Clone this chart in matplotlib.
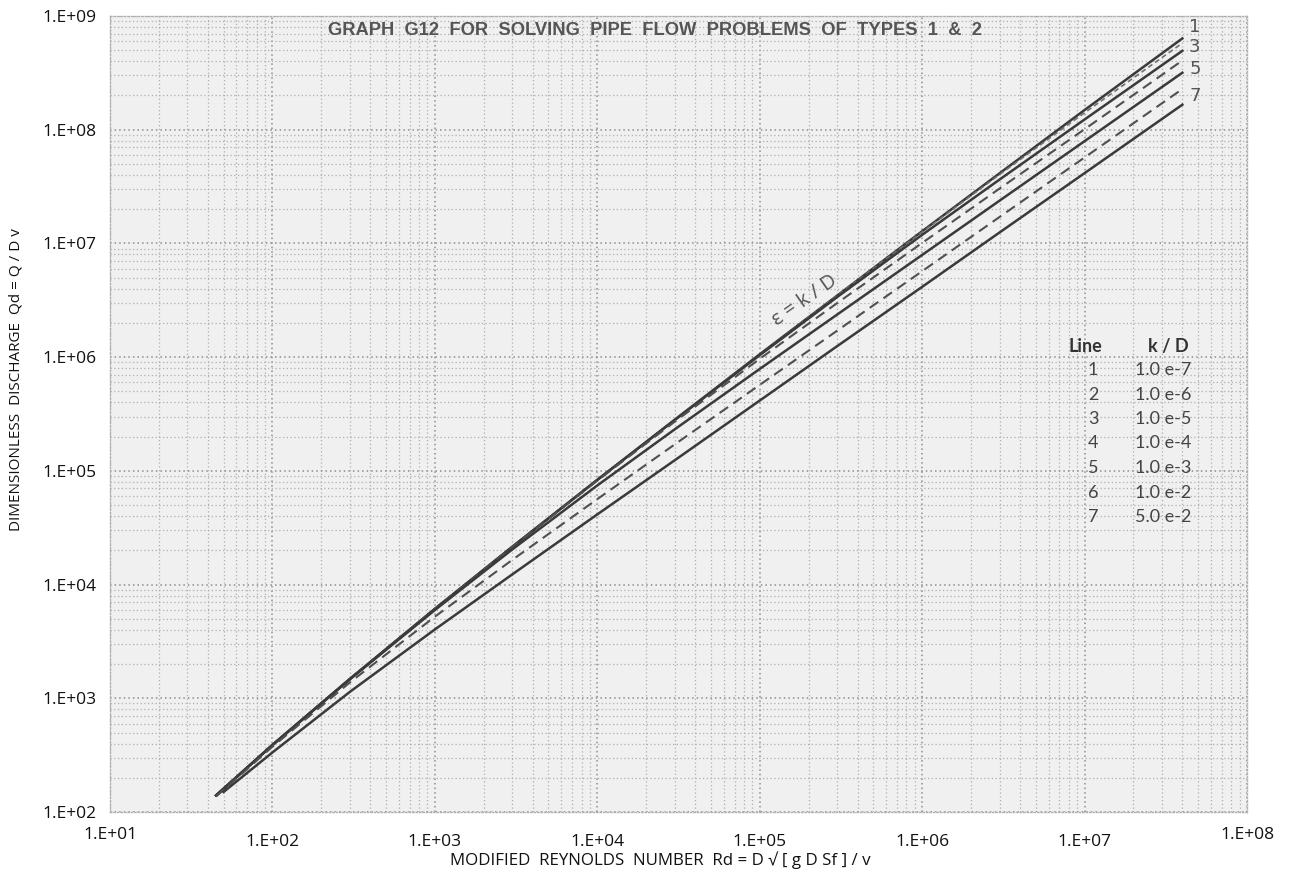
import matplotlib
matplotlib.use("Agg")
import matplotlib.pyplot as plt
from matplotlib.ticker import LogLocator, NullFormatter

# ---------------- data ----------------
rd = [45, 100, 300, 1e3, 3e3, 1e4, 3e4, 1e5, 3e5, 1e6, 3e6, 1e7, 4e7]
rd7 = [50, 100, 300, 1e3, 3e3, 1e4, 3e4, 1e5, 3e5, 1e6, 3e6, 1e7, 4e7]

qd1 = [140, 389, 1480, 6110, 21500, 83300, 282000, 1.06e6, 3.48e6, 1.28e7, 4.14e7, 1.49e8, 6.35e8]
qd2 = [140, 389, 1480, 6110, 21500, 83300, 282000, 1.05e6, 3.47e6, 1.26e7, 4.04e7, 1.41e8, 5.78e8]
qd3 = [140, 389, 1480, 6110, 21500, 83200, 280000, 1.04e6, 3.38e6, 1.19e7, 3.65e7, 1.23e8, 4.94e8]
qd4 = [140, 389, 1480, 6100, 21400, 82000, 271000, 9.66e5, 2.99e6, 1.01e7, 3.04e7, 1.01e8, 4.06e8]
qd5 = [140, 387, 1470, 5970, 20400, 74400, 232000, 7.87e5, 2.37e6, 7.92e6, 2.38e7, 7.93e7, 3.17e8]
qd6 = [137, 375, 1380, 5220, 16500, 56400, 171000, 5.70e5, 1.71e6, 5.70e6, 1.71e7, 5.70e7, 2.28e8]
qd7 = [150, 334, 1140, 4030, 12300, 41400, 124000, 4.15e5, 1.25e6, 4.15e6, 1.25e7, 4.15e7, 1.66e8]

line_ids = ["1", "2", "3", "4", "5", "6", "7"]
kd_labels = ["1.0 e-7", "1.0 e-6", "1.0 e-5", "1.0 e-4", "1.0 e-3", "1.0 e-2", "5.0 e-2"]
end_labels = ["1", "3", "5", "7"]
end_label_y = [8.0e8, 5.35e8, 3.43e8, 1.98e8]

x_ticks = [1e1, 1e2, 1e3, 1e4, 1e5, 1e6, 1e7, 1e8]
x_ticklabels = ["1.E+01", "1.E+02", "1.E+03", "1.E+04", "1.E+05", "1.E+06", "1.E+07", "1.E+08"]
y_ticks = [1e2, 1e3, 1e4, 1e5, 1e6, 1e7, 1e8, 1e9]
y_ticklabels = ["1.E+02", "1.E+03", "1.E+04", "1.E+05", "1.E+06", "1.E+07", "1.E+08", "1.E+09"]

title = "GRAPH  G12  FOR  SOLVING  PIPE  FLOW  PROBLEMS  OF  TYPES  1  &  2"
xlabel = "MODIFIED  REYNOLDS  NUMBER  Rd = D \u221a [ g D Sf ] / v"
ylabel = "DIMENSIONLESS  DISCHARGE  Qd = Q / D v"

# ---------------- figure ----------------
W, H = 1292, 874
fig = plt.figure(figsize=(W / 100, H / 100), dpi=100)
fig.patch.set_facecolor("white")
L, R, T, B = 110, 1247, 16, 812
ax = fig.add_axes([L / W, (H - B) / H, (R - L) / W, (B - T) / H])
ax.set_facecolor("#f0f0f0")
ax.set_xscale("log")
ax.set_yscale("log")
ax.set_xlim(1e1, 1e8)
ax.set_ylim(1e2, 1e9)

# grid
ax.xaxis.set_minor_locator(LogLocator(base=10, subs=range(2, 10), numticks=20))
ax.yaxis.set_minor_locator(LogLocator(base=10, subs=range(2, 10), numticks=20))
ax.xaxis.set_minor_formatter(NullFormatter())
ax.yaxis.set_minor_formatter(NullFormatter())
ax.grid(which="major", color="#8e8e8e", linestyle=(0, (1, 2)), linewidth=1.1)
ax.grid(which="minor", color="#b0b0b0", linestyle=(0, (1, 2)), linewidth=0.9)
ax.set_axisbelow(True)

for s in ax.spines.values():
    s.set_color("#b0b0b0")
    s.set_linewidth(1.0)
    s.set_linestyle((0, (1, 1.5)))

tick_font = "Open Sans"
ax.set_xticks(x_ticks)
ax.set_xticklabels(x_ticklabels, fontsize=12.5, family=tick_font, color="#111111")
ax.set_yticks(y_ticks)
ax.set_yticklabels(y_ticklabels, fontsize=12.5, family=tick_font, color="#111111")
ax.tick_params(which="both", length=0)
ax.tick_params(axis="y", pad=10)
xt = ax.xaxis.get_major_ticks()
for i, tk in enumerate(xt):
    tk.set_pad(11 if i in (0, len(xt) - 1) else 16)

# curves
solid = dict(color="#3a3a3a", linewidth=1.8, linestyle="-")
dashed = dict(color="#505050", linewidth=1.5, linestyle=(0, (5, 3)))
ax.plot(rd, qd1, **solid)
ax.plot(rd, qd2, color="#707070", linewidth=1.2, linestyle=(0, (3, 2)))
ax.plot(rd, qd3, **solid)
ax.plot(rd, qd4, **dashed)
ax.plot(rd, qd5, **solid)
ax.plot(rd, qd6, **dashed)
ax.plot(rd7, qd7, **solid)

# end labels
for lab, yv in zip(end_labels, end_label_y):
    ax.text(4.4e7, yv, lab, fontsize=13, family="DejaVu Sans", color="#555555",
            ha="left", va="center")

# epsilon label
ax.text(0.6113, 0.6432, "\u03b5 = k / D", transform=ax.transAxes, rotation=35,
        fontsize=14.5, family="Open Sans", color="#555555", ha="center", va="center",
        rotation_mode="anchor")

# legend table
leg_font = "Lato"
ax.text(0.8575, 0.5854, "Line", transform=ax.transAxes, fontsize=13, family=leg_font,
        fontweight="bold", color="#333333", ha="center", va="center")
ax.text(0.9305, 0.5854, "k / D", transform=ax.transAxes, fontsize=13, family=leg_font,
        fontweight="bold", color="#333333", ha="center", va="center")
row_y = [0.5553, 0.5239, 0.4937, 0.4636, 0.4322, 0.4008, 0.3706]
for lid, kd, yy in zip(line_ids, kd_labels, row_y):
    ax.text(0.8646, yy, lid, transform=ax.transAxes, fontsize=13, family=leg_font,
            color="#444444", ha="center", va="center")
    ax.text(0.9261, yy, kd, transform=ax.transAxes, fontsize=13, family=leg_font,
            color="#444444", ha="center", va="center")

# title
ax.text(0.4793, 0.9824, title, transform=ax.transAxes, fontsize=13.2,
        family="Liberation Sans", fontweight="bold", color="#555555",
        ha="center", va="center")

# axis labels
ax.set_xlabel(xlabel, fontsize=12.2, family=tick_font, color="#111111")
ax.xaxis.set_label_coords((660 - L) / (R - L), (B - 860) / (B - T))
ax.xaxis.label.set_va("center")
ax.set_ylabel(ylabel, fontsize=11, family=tick_font, color="#111111")
ax.yaxis.set_label_coords((16 - L) / (R - L), (B - 380) / (B - T))
ax.yaxis.label.set_va("center")

fig.savefig("out.png", dpi=100)
